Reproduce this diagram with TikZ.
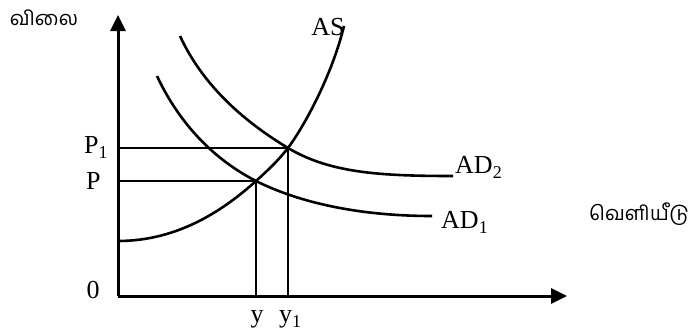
\documentclass[tikz,border=0pt]{standalone}
\usepackage{fontspec}
\setmainfont{Liberation Serif}
\newfontfamily\tamilfont[Script=Tamil]{Hind Madurai}
\usetikzlibrary{arrows.meta}
\newcommand{\lowsub}[1]{\raisebox{-5pt}{\fontsize{18}{20}\selectfont #1}}

\begin{document}
\begin{tikzpicture}[x=1pt, y=-1pt, every node/.style={font=\fontsize{26}{30}\selectfont, inner sep=0pt}, >={Triangle[length=16pt,width=15pt]}, curve/.style={line width=2.6pt}, axis/.style={line width=3pt}]
	\useasboundingbox (0,0) rectangle (691,335);
	\coordinate (O) at (118,296);
	\coordinate (ytip) at (118,15);
	\coordinate (xtip) at (567,296);
	\coordinate (E1) at (256,181);
	\coordinate (E2) at (288,148);
	\draw[->, axis] (O) -- (ytip);
	\draw[->, axis] (O) -- (xtip);
	% supply curve
	\draw[curve] (118,241) .. controls (180,241) and (226,208) .. (E1)
		.. controls (267,171) and (277,162) .. (E2)
		.. controls (305,125) and (332,75) .. (344,26);
	% demand curves
	\draw[curve] (180,36) .. controls (205,90) and (250,125) .. (E2)
		.. controls (330,173) and (380,176) .. (453,176);
	\draw[curve] (157,76) .. controls (180,125) and (215,160) .. (E1)
		.. controls (300,203) and (360,216) .. (432,216);
	\draw[curve] (O |- E2) -- (E2) -- (E2 |- O);
	\draw[curve] (O |- E1) -- (E1) -- (E1 |- O);
	\node (price) at (44,18) {\tamilfont\fontsize{20}{24}\selectfont விலை};
	\node (output) at (639,214) {\tamilfont\fontsize{20}{24}\selectfont வெளியீடு};
	\node (as) at (328,27) {AS};
	\node[anchor=base west] (ad2) at (455,173) {AD\lowsub{2}};
	\node[anchor=base west] (ad1) at (441,228) {AD\lowsub{1}};
	\node[anchor=base west] (p1) at (84,153) {P\lowsub{1}};
	\node[anchor=base west] (p) at (86,189) {P};
	\node[anchor=base] (zero) at (93,298) {0};
	\node[anchor=base] (y) at (257,322) {y};
	\node[anchor=base west] (y1) at (279,322) {y\lowsub{1}};
\end{tikzpicture}
\end{document}
